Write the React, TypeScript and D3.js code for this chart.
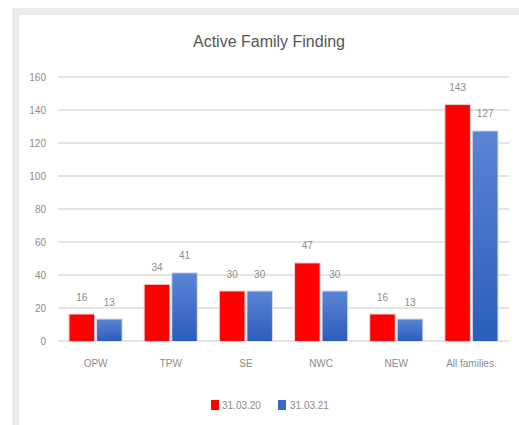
import React from "react";
import * as d3 from "d3";

const categories = ["OPW", "TPW", "SE", "NWC", "NEW", "All families."];
const series2020 = [16, 34, 30, 47, 16, 143];
const series2021 = [13, 41, 30, 30, 13, 127];
const seriesNames = ["31.03.20", "31.03.21"];
const yTicks = [0, 20, 40, 60, 80, 100, 120, 140, 160];

const W = 519;
const H = 425;

export default function App() {
  const x = d3.scaleBand<string>().domain(categories).range([58, 509]).paddingInner(0).paddingOuter(0);
  const y = d3.scaleLinear().domain([0, 160]).range([341, 77]);
  const inner = d3.scaleBand<string>().domain(["a", "b"]).range([0, x.bandwidth()]).paddingInner(0.11).paddingOuter(0.42);
  const font = "'Liberation Sans', Arial, sans-serif";
  const gray = "#8c8c8c";

  return (
    <svg width={W} height={H} style={{ position: "absolute", left: 0, top: 0, background: "#fff" }} fontFamily={font}>
      <defs>
        <linearGradient id="blueGrad" x1="0" y1="0" x2="0" y2="1">
          <stop offset="0%" stopColor="#5b84d4" />
          <stop offset="100%" stopColor="#2c5cbd" />
        </linearGradient>
      </defs>
      <rect x={0} y={0} width={W} height={H} fill="#fff" />
      <rect x={12} y={8} width={W - 12} height={7} fill="#ebebeb" />
      <rect x={12} y={8} width={7} height={H - 8} fill="#ebebeb" />
      <text x={269} y={47} textAnchor="middle" fontSize={16} fill="#555">Active Family Finding</text>
      {yTicks.map((t) => (
        <g key={t}>
          <line x1={58} x2={509} y1={y(t)} y2={y(t)} stroke="#e4e4e4" strokeWidth={2} />
          <text x={46} y={y(t) + 3.5} textAnchor="end" fontSize={10} fill={gray}>{t}</text>
        </g>
      ))}
      {categories.map((c, i) => {
        const x0 = x(c)!;
        const xa = x0 + inner("a")!;
        const xb = x0 + inner("b")!;
        const bw = inner.bandwidth();
        return (
          <g key={c}>
            <rect x={xa - 1} y={y(series2020[i]) - 1} width={bw + 2} height={y(0) - y(series2020[i]) + 1} fill="#f0c8c8" />
            <rect x={xa} y={y(series2020[i])} width={bw} height={y(0) - y(series2020[i])} fill="#ff0000" />
            <rect x={xb - 1} y={y(series2021[i]) - 1} width={bw + 2} height={y(0) - y(series2021[i]) + 1} fill="#d0d8e8" />
            <rect x={xb} y={y(series2021[i])} width={bw} height={y(0) - y(series2021[i])} fill="url(#blueGrad)" />
            <text x={xa + bw / 2} y={y(series2020[i]) - 14} textAnchor="middle" fontSize={10} fill={gray}>{series2020[i]}</text>
            <text x={xb + bw / 2} y={y(series2021[i]) - 14} textAnchor="middle" fontSize={10} fill={gray}>{series2021[i]}</text>
            <text x={x0 + x.bandwidth() / 2} y={367} textAnchor="middle" fontSize={10} fill={gray}>{c}</text>
          </g>
        );
      })}
      <g>
        <rect x={211} y={400} width={8} height={10} fill="#ff0000" />
        <text x={222} y={409} fontSize={10} fill={gray}>{seriesNames[0]}</text>
        <rect x={278} y={400} width={8} height={10} fill="#3a68c6" />
        <text x={290} y={409} fontSize={10} fill={gray}>{seriesNames[1]}</text>
      </g>
    </svg>
  );
}
